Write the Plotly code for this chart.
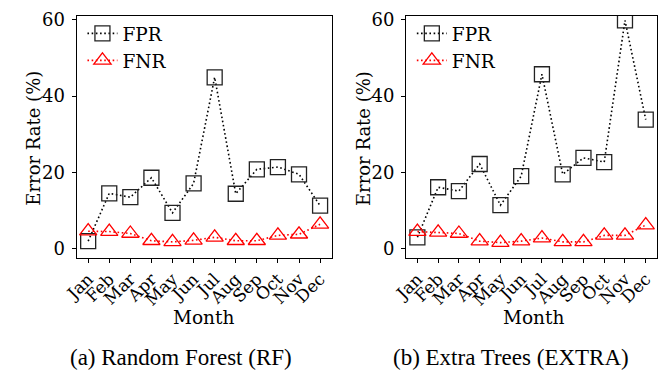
import plotly.graph_objects as go

months = ["Jan", "Feb", "Mar", "Apr", "May", "Jun", "Jul", "Aug", "Sep", "Oct", "Nov", "Dec"]
rf_fpr = [2.0, 14.5, 13.5, 18.6, 9.4, 17.1, 44.9, 14.4, 20.8, 21.4, 19.5, 11.3]
rf_fnr = [4.6, 4.5, 4.0, 2.1, 1.8, 2.2, 3.0, 2.1, 2.1, 3.5, 3.8, 6.4]
et_fpr = [3.0, 16.1, 15.1, 22.2, 11.4, 19.0, 45.7, 19.5, 23.8, 22.7, 59.8, 33.8]
et_fnr = [4.5, 4.3, 4.0, 2.0, 1.6, 2.0, 2.8, 1.8, 1.8, 3.5, 3.5, 6.2]
y_ticks = [0, 20, 40, 60]

W, H = 664, 375
SERIF = "DejaVu Serif"
CAP = "Liberation Serif"

fig = go.Figure()

def add_pair(fpr, fnr, xa, ya, leg):
    fig.add_trace(go.Scatter(
        x=months, y=fpr, name="FPR", mode="lines+markers", xaxis=xa, yaxis=ya, legend=leg,
        line=dict(color="black", width=1.6, dash="1.6px,2.6px"),
        marker=dict(symbol="square-open", size=15, color="#222222", line=dict(width=1.3, color="#222222")),
    ))
    fig.add_trace(go.Scatter(
        x=months, y=fnr, name="FNR", mode="lines+markers", xaxis=xa, yaxis=ya, legend=leg,
        line=dict(color="red", width=1.6, dash="1.6px,2.6px"),
        marker=dict(symbol="triangle-up-open", size=15, color="red", line=dict(width=1.3, color="red")),
    ))

add_pair(rf_fpr, rf_fnr, "x", "y", "legend")
add_pair(et_fpr, et_fnr, "x2", "y2", "legend2")

ydom = [1 - 256 / H, 1 - 9 / H]
xd1 = [63 / W, 324 / W]
xd2 = [400 / W, 657 / W]

xcommon = dict(
    type="category", range=[-0.55, 11.55], showline=True, mirror=True, linecolor="black", linewidth=1,
    ticks="outside", ticklen=4, tickcolor="black", tickangle=-45, showgrid=False, zeroline=False,
    tickfont=dict(family=SERIF, size=17, color="black"), fixedrange=True,
)
ycommon = dict(
    range=[-2.3, 61], tickvals=y_ticks, showline=True, mirror=True, linecolor="black", linewidth=1,
    ticks="outside", ticklen=4, tickcolor="black", showgrid=False, zeroline=False, ticklabelstandoff=3,
    tickfont=dict(family=SERIF, size=18, color="black"), fixedrange=True,
)

legcommon = dict(
    xanchor="left", yanchor="top", bgcolor="rgba(0,0,0,0)", borderwidth=0,
    font=dict(family=SERIF, size=18.5, color="black"), itemsizing="trace",
)

def ann(text, x, y, size, family=SERIF, angle=0):
    return dict(text=text, x=x / W, y=1 - y / H, xref="paper", yref="paper", textangle=angle,
                xanchor="center", yanchor="middle", showarrow=False,
                font=dict(family=family, size=size, color="black"))

fig.update_layout(
    width=W, height=H, margin=dict(l=0, r=0, t=0, b=0),
    paper_bgcolor="white", plot_bgcolor="white",
    xaxis=dict(domain=xd1, anchor="y", **xcommon),
    yaxis=dict(domain=ydom, anchor="x", **ycommon),
    xaxis2=dict(domain=xd2, anchor="y2", **xcommon),
    yaxis2=dict(domain=ydom, anchor="x2", **ycommon),
    legend=dict(x=69 / W, y=1 - 8 / H, **legcommon),
    legend2=dict(x=406 / W, y=1 - 8 / H, **legcommon),
    annotations=[
        ann("Error Rate (%)", 19, 134, 18, angle=-90),
        ann("Error Rate (%)", 356, 134, 18, angle=-90),
        ann("Month", 193, 317, 18.5),
        ann("Month", 530, 317, 18.5),
        ann("(a) Random Forest (RF)", 170, 358.5, 23, family=CAP),
        ann("(b) Extra Trees (EXTRA)", 507.5, 358.5, 23, family=CAP),
    ],
)

fig.write_html("out.html")
